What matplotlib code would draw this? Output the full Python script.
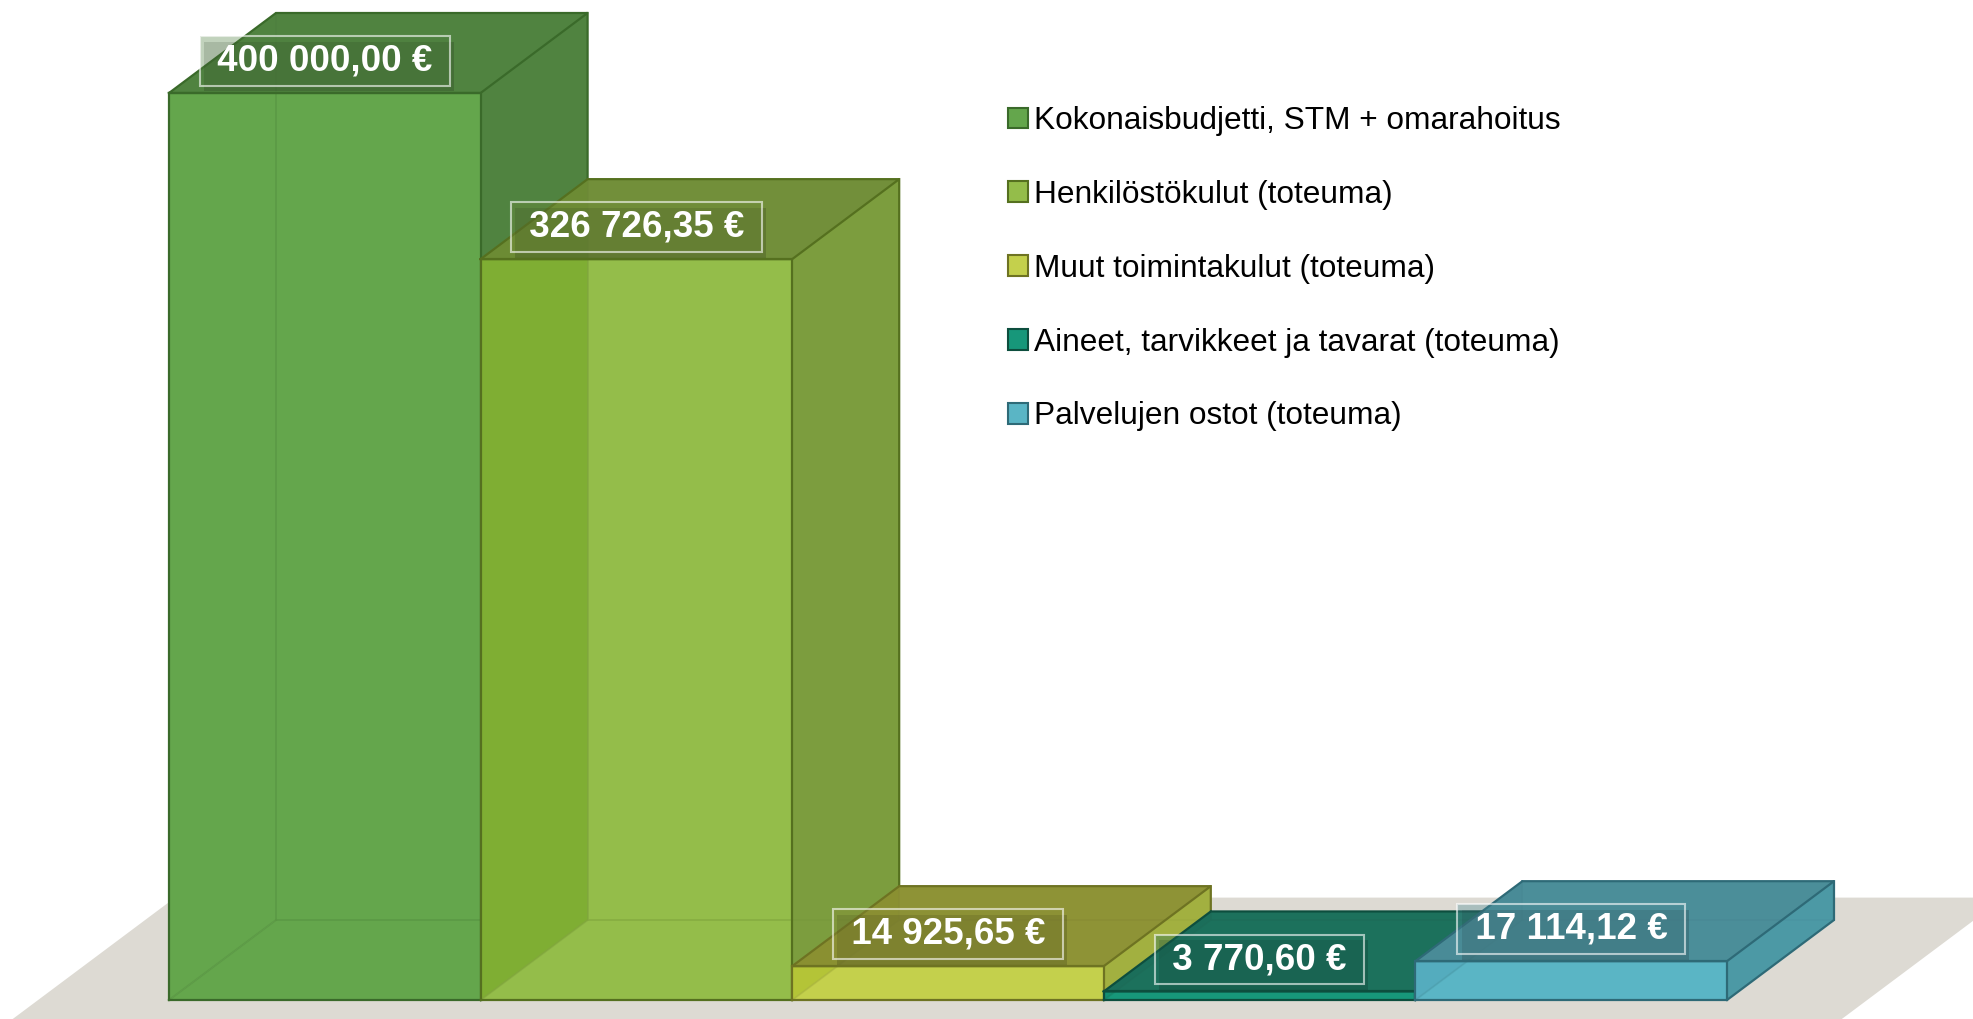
import matplotlib.pyplot as plt
from matplotlib.colors import to_rgb
from matplotlib.patches import Polygon, Patch
import matplotlib.patheffects as pe

# data
categories = [
    "Kokonaisbudjetti, STM + omarahoitus",
    "Henkilöstökulut (toteuma)",
    "Muut toimintakulut (toteuma)",
    "Aineet, tarvikkeet ja tavarat (toteuma)",
    "Palvelujen ostot (toteuma)",
]
values = [400000.00, 326726.35, 14925.65, 3770.60, 17114.12]

front_colors = ["#64A64C", "#94BD4A", "#C4D04C", "#17977A", "#5AB5C5"]
top_colors = ["#4F8040", "#6F8B39", "#8A8E35", "#1D6E5A", "#4A8B96"]
side_colors = ["#4F8040", "#7A9B3E", "#A0AE3F", "#1D6E5A", "#4B97A3"]
inner_colors = ["#64A64C", "#518B00", "#8FAB06", "#0F7A60", "#4997AE"]
edge_colors = ["#3A6A2A", "#55701F", "#6E7322", "#0D4E3E", "#2E6A77"]
floor_color = "#DDDAD3"

W, H = 1974, 1019
fig = plt.figure(figsize=(W / 100, H / 100), dpi=100)
ax = fig.add_axes([0, 0, 1, 1])

# pixel geometry of the plot area -> data limits
slot_px = 311.6
left_px = 169
base_px = 1000
top_px = 93
eur_per_px = max(values) / (base_px - top_px)
ax.set_xlim(-left_px / slot_px, (W - left_px) / slot_px)
ax.set_ylim(-(H - base_px) * eur_per_px, base_px * eur_per_px)
ax.axis("off")

# depth of the boxes (projected offset)
DX = 107 / slot_px
DY = 80 * eur_per_px


def proj(x, y, z):
    return (x + z * DX, y + z * DY)


zc = [1]


def face(pts, color, alpha=1.0):
    ax.add_patch(Polygon([proj(*p) for p in pts], closed=True, facecolor=color,
                         edgecolor="none", alpha=alpha, zorder=zc[0]))
    zc[0] += 1


def edges(pts, color, lw=1.6, alpha=1.0, closed=True):
    pp = [proj(*p) for p in pts]
    if closed:
        pp.append(pp[0])
    xs, ys = zip(*pp)
    ax.plot(xs, ys, color=color, lw=lw, alpha=alpha, zorder=zc[0],
            solid_joinstyle="miter")
    zc[0] += 1


# floor
n = len(values)
fx0, fx1, fz0, fz1 = -0.42, n + 0.45, -0.28, 1.28
face([(fx0, 0, fz0), (fx1, 0, fz0), (fx1, 0, fz1), (fx0, 0, fz1)], floor_color)

for i, v in enumerate(values):
    x0, x1 = i, i + 1
    fc, tc, sc, ic, ec = front_colors[i], top_colors[i], side_colors[i], inner_colors[i], edge_colors[i]
    # hidden faces
    face([(x0, 0, 1), (x1, 0, 1), (x1, v, 1), (x0, v, 1)], fc)
    face([(x0, 0, 0), (x1, 0, 0), (x1, 0, 1), (x0, 0, 1)], fc)
    face([(x0, 0, 0), (x0, 0, 1), (x0, v, 1), (x0, v, 0)], ic)
    # hidden edges seen through the glass
    edges([(x0, v, 1), (x0, 0, 1), (x1, 0, 1)], ec, lw=1.4, alpha=0.6, closed=False)
    edges([(x0, 0, 0), (x0, 0, 1)], ec, lw=1.4, alpha=0.6, closed=False)
    # visible faces
    face([(x1, 0, 0), (x1, 0, 1), (x1, v, 1), (x1, v, 0)], sc, 0.92)
    face([(x0, v, 0), (x1, v, 0), (x1, v, 1), (x0, v, 1)], tc, 0.92)
    face([(x0, 0, 0), (x1, 0, 0), (x1, v, 0), (x0, v, 0)], fc, 0.7)
    # visible edges
    edges([(x0, 0, 0), (x1, 0, 0), (x1, v, 0), (x0, v, 0)], ec)
    edges([(x0, v, 0), (x0, v, 1), (x1, v, 1), (x1, v, 0)], ec)
    edges([(x1, 0, 0), (x1, 0, 1), (x1, v, 1)], ec, closed=False)

# value labels
for i, v in enumerate(values):
    txt = " " + f"{v:,.2f}".replace(",", " ").replace(".", ",") + " € "
    t = ax.annotate(txt, xy=(i + 0.5, v), xytext=(0, 23), textcoords="offset points",
                    ha="center", va="center", fontsize=26.5, fontweight="bold",
                    family="Liberation Sans", color="white", zorder=210,
                    bbox=dict(boxstyle="square,pad=0.2",
                              facecolor=(*to_rgb(top_colors[i]), 0.35),
                              edgecolor=(1, 1, 1, 0.6), linewidth=1.5))
    t.get_bbox_patch().set_path_effects([
        pe.SimplePatchShadow(offset=(3, -4), shadow_rgbFace="black", alpha=0.15),
        pe.Normal()])

# legend
handles = [Patch(facecolor=front_colors[i], edgecolor=edge_colors[i], linewidth=1.5)
           for i in range(n)]
ax.legend(handles, categories, loc="upper left",
          bbox_to_anchor=(1008 / W, 1 - 106 / H), bbox_transform=fig.transFigure,
          frameon=False, prop={"family": "Liberation Sans", "size": 22.8},
          handlelength=0.62, handleheight=0.62, handletextpad=0.2,
          labelspacing=1.385, borderpad=0, borderaxespad=0)

fig.savefig("out.png", dpi=100)
